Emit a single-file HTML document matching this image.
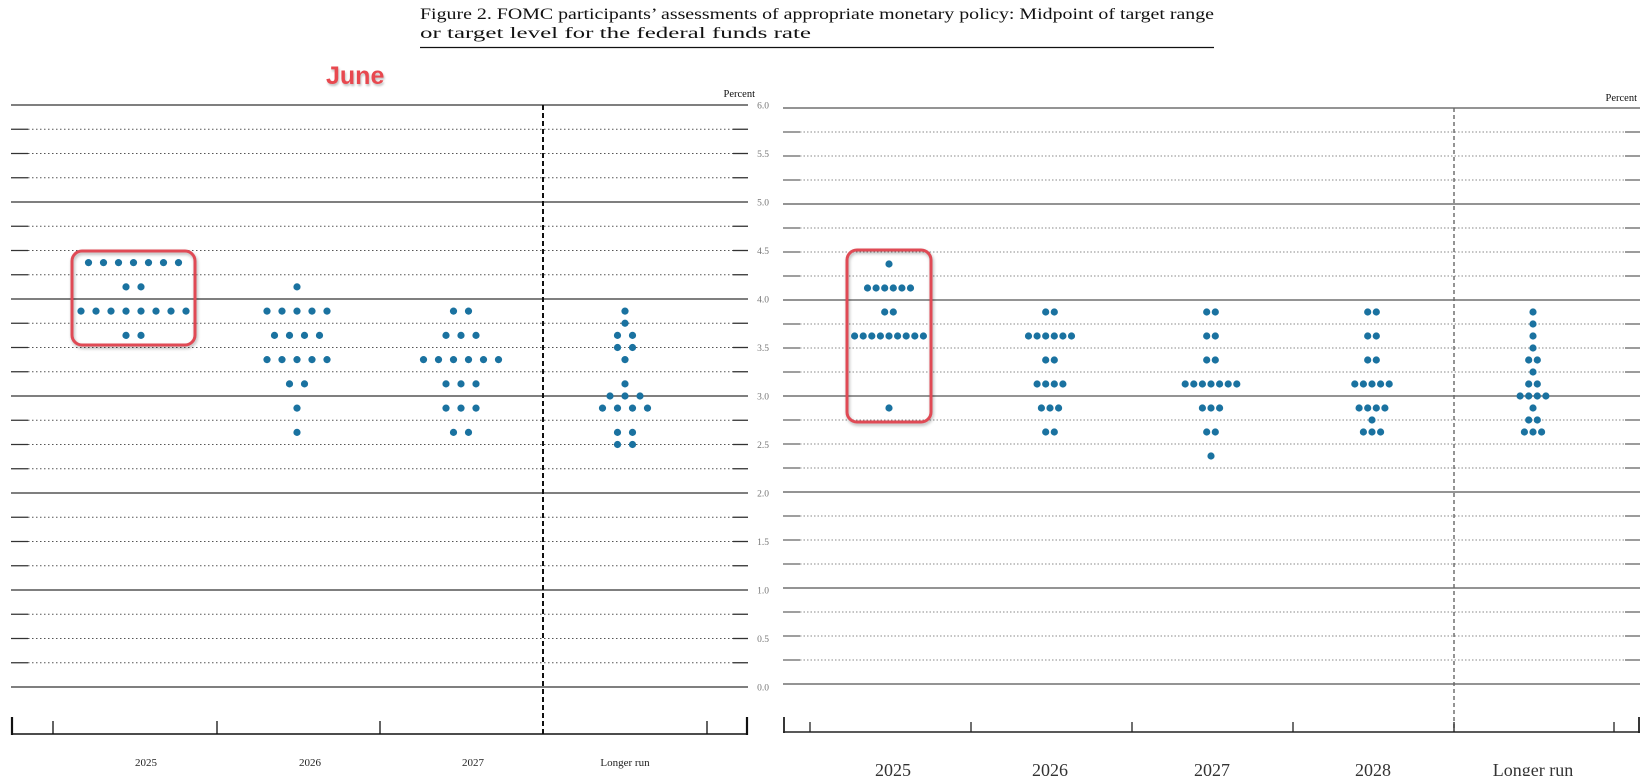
<!DOCTYPE html>
<html><head><meta charset="utf-8"><style>
html,body{margin:0;padding:0;background:#fff;}
svg{display:block;}
</style></head><body>
<svg id="s" width="1648" height="776" xmlns="http://www.w3.org/2000/svg">
<text x="420" y="19" font-family="Liberation Serif, serif" font-size="16" fill="#111" textLength="794" lengthAdjust="spacingAndGlyphs">Figure 2.  FOMC participants’ assessments of appropriate monetary policy:  Midpoint of target range</text>
<text x="420" y="38" font-family="Liberation Serif, serif" font-size="16" fill="#111" textLength="391" lengthAdjust="spacingAndGlyphs">or target level for the federal funds rate</text>
<line x1="420" y1="47.5" x2="1214" y2="47.5" stroke="#111" stroke-width="1.2"/>
<text x="326" y="84" font-family="Liberation Sans, sans-serif" font-weight="bold" font-size="25" fill="#e8484f" style="filter:drop-shadow(1px 2px 1px rgba(0,0,0,0.25))">June</text>
<text x="755" y="97" text-anchor="end" font-family="Liberation Serif, serif" font-size="10.5" fill="#111">Percent</text>
<text x="1637" y="101" text-anchor="end" font-family="Liberation Serif, serif" font-size="10.5" fill="#111">Percent</text>
<g id="g"></g>
</svg>
<script>
var g=document.getElementById('g'),h='';
function L(x1,y1,x2,y2,c,w,d){h+='<line x1="'+x1+'" y1="'+y1+'" x2="'+x2+'" y2="'+y2+'" stroke="'+c+'" stroke-width="'+w+'"'+(d?' stroke-dasharray="'+d+'"':'')+'/>';}
function T(x,y,s,fs,c,a){h+='<text x="'+x+'" y="'+y+'" font-family="Liberation Serif, serif" font-size="'+fs+'" fill="'+c+'" text-anchor="'+(a||'middle')+'">'+s+'</text>';}
function yl(v){return 105+(6-v)*97;}
for(var i=0;i<=24;i++){var v=i*0.25,y=yl(v);
 if(i%4==0){L(11,y,748,y,'#333',1.3);}
 else{L(28,y,733,y,'#555',1,'1.5 2.5');L(11,y,28,y,'#333',1.3);L(733,y,748,y,'#333',1.3);}
 if(i%2==0)T(763,y+3.5,v.toFixed(1),9.5,'#777');}
L(543,105,543,734,'#111',2,'5 3');
L(11,734,748,734,'#111',1.6);
L(12,717,12,735,'#111',2.2);L(747,717,747,735,'#111',2.2);
[53,217,380,707].forEach(function(x){L(x,721,x,734,'#111',1.3);});
T(146,766,'2025',11,'#222');T(310,766,'2026',11,'#222');T(473,766,'2027',11,'#222');T(625,766,'Longer run',11,'#222');
function yr(v){return 108+(6-v)*96;}
for(var i=0;i<=24;i++){var v=i*0.25,y=yr(v);
 if(i%4==0){L(783,y,1640,y,'#555',1.3);}
 else{L(800,y,1625,y,'#888',1,'1.5 2');L(783,y,800,y,'#666',1.3);L(1625,y,1640,y,'#666',1.3);}}
L(1454,108,1454,732,'#666',1.4,'4 3');
L(783,732,1640,732,'#222',1.6);
L(784,717,784,733,'#222',1.8);L(1639,717,1639,733,'#222',1.8);
[810,971,1132,1293,1454,1614].forEach(function(x){L(x,722,x,732,'#222',1.3);});
T(893,776,'2025',18,'#333');T(1050,776,'2026',18,'#333');T(1212,776,'2027',18,'#333');T(1373,776,'2028',18,'#333');T(1533,776,'Longer run',18,'#333');
h+='<rect x="72" y="251" width="123" height="94" rx="10" fill="none" stroke="#e04a55" stroke-width="3" style="filter:drop-shadow(1px 2px 1.5px rgba(0,0,0,0.3))"/>';
h+='<rect x="847" y="250" width="84" height="172" rx="10" fill="none" stroke="#e04a55" stroke-width="3" style="filter:drop-shadow(1px 2px 1.5px rgba(0,0,0,0.3))"/>';
function D(cx,yf,sp,rows){rows.forEach(function(r){var n=r[1],y=yf(r[0]);for(var k=0;k<n;k++){var x=cx+(k-(n-1)/2)*sp;h+='<circle cx="'+x+'" cy="'+y+'" r="3.6" fill="#1a72a0"/>';}});}
D(133.5,yl,15,[[4.375,7],[4.125,2],[3.875,8],[3.625,2]]);
D(297,yl,15,[[4.125,1],[3.875,5],[3.625,4],[3.375,5],[3.125,2],[2.875,1],[2.625,1]]);
D(461,yl,15,[[3.875,2],[3.625,3],[3.375,6],[3.125,3],[2.875,3],[2.625,2]]);
D(625,yl,15,[[3.875,1],[3.75,1],[3.625,2],[3.5,2],[3.375,1],[3.125,1],[3.0,3],[2.875,4],[2.625,2],[2.5,2]]);
var rs=8.6;
D(889,yr,rs,[[4.375,1],[4.125,6],[3.875,2],[3.625,9],[2.875,1]]);
D(1050,yr,rs,[[3.875,2],[3.625,6],[3.375,2],[3.125,4],[2.875,3],[2.625,2]]);
D(1211,yr,rs,[[3.875,2],[3.625,2],[3.375,2],[3.125,7],[2.875,3],[2.625,2],[2.375,1]]);
D(1372,yr,rs,[[3.875,2],[3.625,2],[3.375,2],[3.125,5],[2.875,4],[2.75,1],[2.625,3]]);
D(1533,yr,rs,[[3.875,1],[3.75,1],[3.625,1],[3.5,1],[3.375,2],[3.25,1],[3.125,2],[3.0,4],[2.875,1],[2.75,2],[2.625,3]]);
g.innerHTML=h;
</script>
</body></html>
